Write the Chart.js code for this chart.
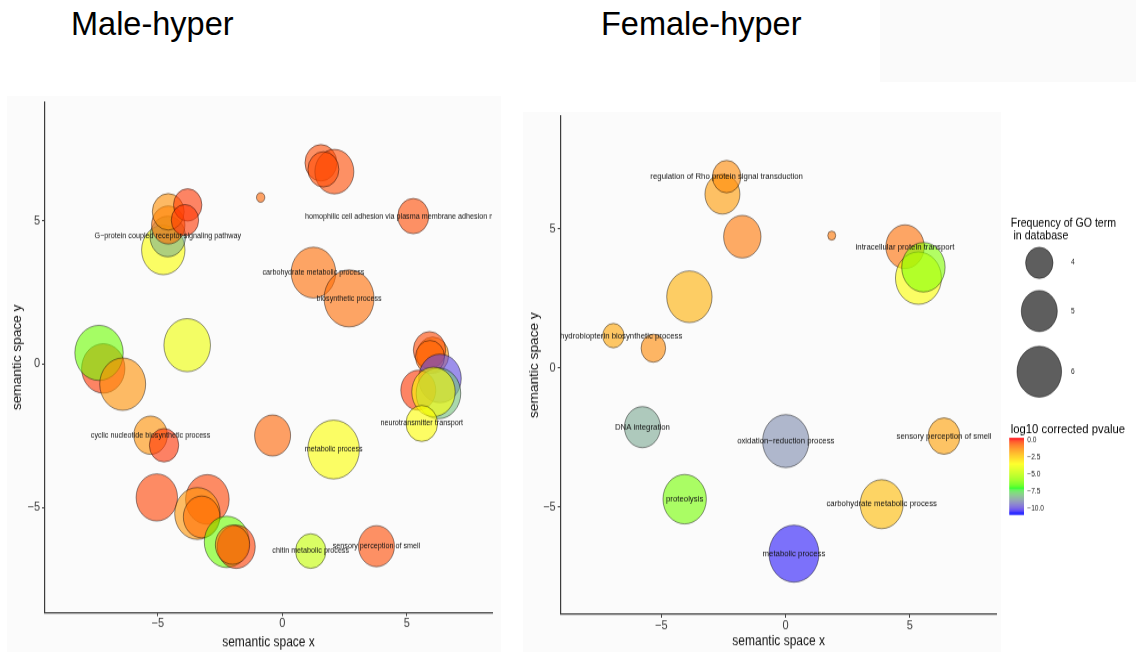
<!DOCTYPE html>
<html>
<head>
<meta charset="utf-8">
<script src="https://cdn.jsdelivr.net/npm/chart.js@4.4.1/dist/chart.umd.min.js"></script>
<style>
  html, body { margin: 0; padding: 0; background: #fff; }
  body { width: 1136px; height: 652px; position: relative; overflow: hidden;
         font-family: "Liberation Sans", Arial, Helvetica, sans-serif; }
  .title { position: absolute; top: 7.5px; font-size: 32.5px; line-height: 1; color: #000; }
  .panel { position: absolute; background: #fbfbfb; }
  .wrap { position: absolute; transform: scaleY(1.14); transform-origin: 0 0; }
</style>
</head>
<body>
<div class="panel" style="left:880px;top:0;width:256px;height:82px;background:#fafafa"></div>
<div class="panel" style="left:7px;top:96px;width:494px;height:556px"></div>
<div class="panel" style="left:523px;top:112px;width:478px;height:540px"></div>
<div class="title" style="left:71px">Male-hyper</div>
<div class="title" style="left:601px">Female-hyper</div>
<div class="wrap" style="left:0;top:90px;width:510px;height:493px"><canvas id="maleChart" width="510" height="493"></canvas></div>
<div class="wrap" style="left:520px;top:90px;width:616px;height:493px"><canvas id="femaleChart" width="616" height="493"></canvas></div>
<script>
// male-hyper GO terms (semantic x, semantic y, log10 frequency, log10 corrected p)
const maleX = [1.55, 2.09, 1.65, -0.87, 5.26, 1.25, 2.68, -4.78, -4.60, -4.58, -4.58, -3.80, -3.91,
  -7.19, -7.36, -6.41, -3.82, -5.29, -4.75, -5.04, -3.01, -3.41, -3.24, -2.23, -1.85, -2.00,
  -0.39, 2.06, 1.14, 3.78, 6.04, 5.91, 5.93, 6.33, 5.46, 6.27, 6.07, 5.60];
const maleY = [7.02, 6.71, 6.79, 5.81, 5.16, 3.19, 2.29, 3.98, 4.45, 4.85, 5.31, 5.55, 5.02,
  -0.15, 0.39, -0.70, 0.66, -2.48, -2.83, -4.65, -4.72, -5.21, -5.33, -6.20, -6.37, -6.30,
  -2.49, -2.98, -6.52, -6.35, 0.31, 0.49, 0.25, -0.50, -0.91, -1.02, -0.97, -2.07];
const maleSize = [4.53, 5.35, 4.42, 1.79, 4.42, 6.00, 6.63, 5.86, 4.95, 4.70, 4.53, 4.12, 4.00,
  5.86, 6.44, 6.16, 6.23, 4.72, 4.23, 5.63, 5.88, 6.10, 5.07, 6.05, 5.23, 4.81,
  5.00, 6.81, 4.35, 5.00, 4.53, 4.58, 4.19, 5.77, 4.88, 6.00, 5.86, 4.49];
const maleP = [-0.45, -0.45, -0.45, -0.8, -0.45, -0.85, -0.85, -3.6, -8.3, -0.9, -1.4, -0.25, -0.25,
  -0.25, -6.3, -1.45, -3.9, -1.45, -0.2, -0.35, -0.35, -1.5, -0.9, -6.3, -0.3, -0.9,
  -0.75, -3.6, -4.8, -0.45, -1.5, -0.4, -0.8, -9.9, -0.25, -8.0, -3.6, -3.5];
const maleLabels = ['', '', '', '', 'homophilic cell adhesion via plasma membrane adhesion molecules',
  'carbohydrate metabolic process', 'biosynthetic process', '', 'G\u2212protein coupled receptor signaling pathway',
  '', '', '', '', '', '', '', '', 'cyclic nucleotide biosynthetic process', '', '', '', '', '', '', '', '',
  '', 'metabolic process', 'chitin metabolic process', 'sensory perception of smell',
  '', '', '', '', '', '', '', 'neurotransmitter transport'];

// female-hyper GO terms
const femaleX = [-2.54, -2.37, -1.74, 1.86, 4.81, 5.35, 5.55, -3.87, -6.93, -5.32, -5.76, 0.01, 6.38, -4.06, 3.87, 0.34];
const femaleY = [6.24, 6.87, 4.71, 4.75, 4.35, 3.22, 3.61, 2.55, 1.15, 0.70, -2.14, -2.64, -2.46, -4.73, -4.91, -6.69];
const femaleSize = [4.88, 4.12, 5.16, 1.74, 5.28, 6.16, 5.86, 6.09, 3.30, 3.67, 5.00, 6.21, 4.53, 5.86, 5.81, 6.63];
const femaleP = [-1.6, -1.3, -1.0, -1.0, -0.9, -3.6, -6.0, -2.0, -1.8, -1.3, -8.4, -8.9, -1.7, -6.2, -2.2, -10.4];
const femaleLabels = ['', 'regulation of Rho protein signal transduction', '', '', 'intracellular protein transport',
  '', '', '', 'tetrahydrobiopterin biosynthetic process', '', 'DNA integration', 'oxidation\u2212reduction process',
  'sensory perception of smell', 'proteolysis', 'carbohydrate metabolic process', 'metabolic process'];

const axisTicks = [-5, 0, 5];
const sizeBreaks = [4, 5, 6];
const pBreaks = [0, -2.5, -5, -7.5, -10];
const P_MIN = -10.5, P_MAX = 0;

const FONT = '"Liberation Sans", Arial, Helvetica, sans-serif';
const FILL_ALPHA = 0.6;

// size scale: log frequency -> bubble radius (px)
const sizeRadius = v => 4.3 * v - 3.5;

// blue-green-yellow-red gradient, interpolated in CIELAB like ggplot
function toLab([r, g, b]) {
  const lin = c => { c /= 255; return c <= 0.04045 ? c / 12.92 : Math.pow((c + 0.055) / 1.055, 2.4); };
  const R = lin(r), G = lin(g), B = lin(b);
  const X = (0.4124 * R + 0.3576 * G + 0.1805 * B) / 0.95047;
  const Y = 0.2126 * R + 0.7152 * G + 0.0722 * B;
  const Z = (0.0193 * R + 0.1192 * G + 0.9505 * B) / 1.08883;
  const f = t => t > 0.008856 ? Math.cbrt(t) : 7.787 * t + 16 / 116;
  return [116 * f(Y) - 16, 500 * (f(X) - f(Y)), 200 * (f(Y) - f(Z))];
}
function fromLab([L, a, b]) {
  const fy = (L + 16) / 116, fx = fy + a / 500, fz = fy - b / 200;
  const inv = t => t * t * t > 0.008856 ? t * t * t : (t - 16 / 116) / 7.787;
  const X = inv(fx) * 0.95047, Y = inv(fy), Z = inv(fz) * 1.08883;
  const R = 3.2406 * X - 1.5372 * Y - 0.4986 * Z;
  const G = -0.9689 * X + 1.8758 * Y + 0.0415 * Z;
  const B = 0.0557 * X - 0.2040 * Y + 1.0570 * Z;
  const enc = c => {
    c = c <= 0.0031308 ? 12.92 * c : 1.055 * Math.pow(c, 1 / 2.4) - 0.055;
    return Math.round(Math.min(1, Math.max(0, c)) * 255);
  };
  return [enc(R), enc(G), enc(B)];
}
const labStops = [[0, 0, 255], [0, 255, 0], [255, 255, 0], [255, 0, 0]].map(toLab);
function pColour(p, alpha) {
  const t = Math.min(1, Math.max(0, (p - P_MIN) / (P_MAX - P_MIN)));
  const seg = Math.min(2, Math.floor(t * 3));
  const u = t * 3 - seg;
  const a = labStops[seg], b = labStops[seg + 1];
  const rgb = fromLab(a.map((v, i) => v + (b[i] - v) * u));
  return `rgba(${rgb[0]},${rgb[1]},${rgb[2]},${alpha})`;
}

const fmt = v => (v < 0 ? '\u2212' + Math.abs(v) : String(v));

const bubbleLabels = {
  id: 'bubbleLabels',
  afterDatasetsDraw(chart, args, opts) {
    const { ctx, chartArea: a } = chart;
    const pts = chart.getDatasetMeta(0).data;
    ctx.save();
    ctx.beginPath();
    ctx.rect(a.left, a.top, a.right - a.left, a.bottom - a.top);
    ctx.clip();
    ctx.font = `${opts.size}px ${FONT}`;
    ctx.fillStyle = '#111';
    ctx.textAlign = 'center';
    ctx.textBaseline = 'middle';
    opts.labels.forEach((t, i) => { if (t) ctx.fillText(t, pts[i].x, pts[i].y); });
    ctx.restore();
  }
};

const sideLegend = {
  id: 'sideLegend',
  afterDraw(chart) {
    const ctx = chart.ctx;
    ctx.save();
    ctx.fillStyle = '#000';
    ctx.textAlign = 'left';
    ctx.textBaseline = 'alphabetic';
    ctx.font = `10.6px ${FONT}`;
    ctx.fillText('Frequency of GO term', 490.7, 119.9);
    ctx.fillText('in database', 493.5, 131);

    const keyY = [151.6, 193.9, 247.1];
    sizeBreaks.forEach((v, i) => {
      ctx.beginPath();
      ctx.arc(519.3, keyY[i], sizeRadius(v), 0, Math.PI * 2);
      ctx.fillStyle = 'rgba(0,0,0,0.63)';
      ctx.fill();
      ctx.lineWidth = 0.8;
      ctx.strokeStyle = 'rgba(0,0,0,0.6)';
      ctx.stroke();
      ctx.fillStyle = '#222';
      ctx.font = `6.6px ${FONT}`;
      ctx.textBaseline = 'middle';
      ctx.fillText(String(v), 551, keyY[i]);
    });

    ctx.textBaseline = 'alphabetic';
    ctx.fillStyle = '#000';
    ctx.font = `11.3px ${FONT}`;
    ctx.fillText('log10 corrected pvalue', 490.7, 301.3);

    const top = 305, bottom = 372.2, left = 489.3, w = 14.7;
    const ext = (P_MAX - P_MIN) / 38;
    const hi = P_MAX + ext, span = P_MAX - P_MIN + 2 * ext;
    for (let yy = top; yy < bottom; yy += 0.5) {
      const v = hi - ((yy + 0.25 - top) / (bottom - top)) * span;
      ctx.fillStyle = pColour(v, 1);
      ctx.fillRect(left, yy, w, 0.6);
    }
    ctx.font = `6.6px ${FONT}`;
    ctx.fillStyle = '#222';
    ctx.textBaseline = 'middle';
    pBreaks.forEach(v => {
      const yy = top + ((hi - v) / span) * (bottom - top);
      ctx.fillText(v.toFixed(1).replace('-', '\u2212'), 507.3, yy);
    });
    ctx.restore();
  }
};

function axis(range, title, titlePad, tickPad, fit) {
  return {
    type: 'linear',
    min: range[0],
    max: range[1],
    afterBuildTicks: s => { s.ticks = axisTicks.map(v => ({ value: v })); },
    afterFit: fit,
    ticks: { color: '#3a3a3a', font: { family: FONT, size: 11 }, padding: tickPad, callback: v => fmt(v) },
    grid: { display: true, drawOnChartArea: false, drawTicks: true, tickLength: 3, color: '#3c3c3c', lineWidth: 1 },
    border: { display: true, color: '#3c3c3c', width: 1.2 },
    title: { display: true, text: title, color: '#111', font: { family: FONT, size: 12 }, padding: titlePad }
  };
}

function makeChart(id, d) {
  const points = d.x.map((x, i) => ({ x, y: d.y[i], r: sizeRadius(d.size[i]) }));
  return new Chart(document.getElementById(id), {
    type: 'bubble',
    data: {
      datasets: [{
        data: points,
        backgroundColor: d.p.map(p => pColour(p, FILL_ALPHA)),
        borderColor: 'rgba(0,0,0,0.55)',
        borderWidth: 0.8
      }]
    },
    options: {
      responsive: false,
      animation: false,
      events: [],
      layout: { autoPadding: false, padding: d.padding },
      plugins: {
        legend: { display: false },
        tooltip: { enabled: false },
        bubbleLabels: { labels: d.labels, size: d.labelSize }
      },
      scales: {
        x: axis(d.xRange, 'semantic space x', { top: 0, bottom: d.xTitlePad }, 0, s => { s.height = d.xAxisH; }),
        y: axis(d.yRange, 'semantic space y', { top: d.yTitlePad, bottom: 0 }, 2, s => { s.width = d.yAxisW; })
      }
    },
    plugins: d.legend ? [bubbleLabels, sideLegend] : [bubbleLabels]
  });
}

makeChart('maleChart', {
  x: maleX, y: maleY, size: maleSize, p: maleP, labels: maleLabels, labelSize: 7.2,
  xRange: [-9.53, 8.42], yRange: [-8.67, 9.14],
  padding: { left: 0, top: 10.5, right: 18, bottom: 0 },
  yAxisW: 45, xAxisH: 34.5, yTitlePad: 10.8, xTitlePad: 1.6, legend: false
});

makeChart('femaleChart', {
  x: femaleX, y: femaleY, size: femaleSize, p: femaleP, labels: femaleLabels, labelSize: 7.8,
  xRange: [-9.05, 8.5], yRange: [-8.87, 9.05],
  padding: { left: 0, top: 22.8, right: 139.3, bottom: 0 },
  yAxisW: 40.7, xAxisH: 33.1, yTitlePad: 7.3, xTitlePad: 2.5, legend: true
});
</script>
</body>
</html>
